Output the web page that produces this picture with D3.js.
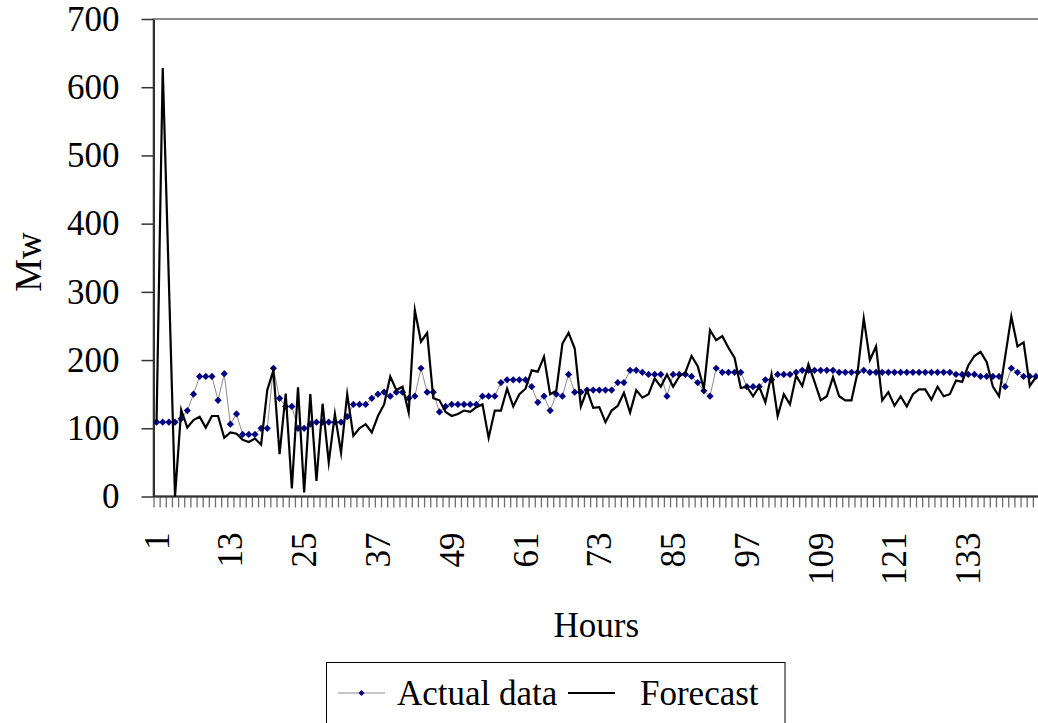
<!DOCTYPE html>
<html>
<head>
<meta charset="utf-8">
<script src="https://cdn.jsdelivr.net/npm/d3@7"></script>
<style>
  html, body { margin: 0; padding: 0; background: #fff; }
  svg { display: block; }
  text { font-family: "Liberation Serif", "Times New Roman", serif; fill: #000; }
</style>
</head>
<body>
<svg id="chart" width="1038" height="723"></svg>
<script>
// Hourly load: measured values and model forecast (MW), hours 1..144
const hours = d3.range(1, 145);

const actualData = [
  109,109,109,109,114,126,150,176,176,176,
  141,180,106,121,91,91,91,100,100,188,
  144,132,132,100,100,106,109,109,109,109,
  109,117,135,135,135,144,150,153,147,153,
  153,144,147,188,153,153,124,132,135,135,
  135,135,135,147,147,147,167,171,171,171,
  171,161,138,147,126,150,147,179,153,153,
  156,156,156,156,156,167,167,185,185,182,
  179,179,179,147,179,179,179,176,167,155,
  147,188,182,182,182,182,161,161,161,171,
  171,179,179,179,182,185,185,185,185,185,
  185,182,182,182,182,185,182,182,182,182,
  182,182,182,182,182,182,182,182,182,182,
  179,179,179,179,176,176,176,176,161,188,
  182,176,176,176
];

const forecastData = [
  110,628,315,0,127,101,112,117,101,118,
  118,86,94,92,83,80,85,76,156,185,
  62,151,12,160,6,150,23,136,50,121,
  64,150,89,100,106,94,118,135,176,156,
  161,123,273,227,240,144,141,124,118,121,
  126,124,131,135,86,126,126,158,132,150,
  158,185,183,205,150,155,224,240,217,132,
  156,130,131,109,126,133,152,123,156,145,
  150,173,161,179,161,176,182,206,191,158,
  244,229,235,218,203,159,161,147,161,138,
  179,118,150,135,177,162,194,168,141,147,
  175,147,141,141,182,261,200,220,141,153,
  133,147,132,150,157,157,142,161,147,150,
  170,168,192,206,212,197,161,147,205,264,
  220,226,162,175
];

const hourTickLabels = [1, 13, 25, 37, 49, 61, 73, 85, 97, 109, 121, 133];
const mwTicks = [0, 100, 200, 300, 400, 500, 600, 700];

const svg = d3.select("#chart");
const W = 1038, H = 723;
svg.append("rect").attr("width", W).attr("height", H).attr("fill", "#fff");

const plot = { left: 153.5, top: 19, right: 1039, bottom: 496.5 };
const FONT = 35;

const x = d3.scaleBand().domain(hours).range([plot.left, plot.right]).paddingInner(0).paddingOuter(0);
const xc = h => x(h) + x.bandwidth() / 2;
const xEdge = d3.scaleLinear().domain([0, hours.length]).range([plot.left, plot.right]);
const y = d3.scaleLinear().domain([0, 700]).range([plot.bottom, plot.top]);

// plot area frame
svg.append("rect")
  .attr("x", plot.left).attr("y", plot.top)
  .attr("width", plot.right - plot.left).attr("height", plot.bottom - plot.top)
  .attr("fill", "none").attr("stroke", "#8a8a8a").attr("stroke-width", 2);

// category tick marks at slot boundaries
const xTickAxis = d3.axisBottom(xEdge)
  .tickValues(d3.range(0, hours.length + 1))
  .tickSize(11).tickFormat("");
const gxt = svg.append("g").attr("transform", `translate(0,${plot.bottom})`).call(xTickAxis);
gxt.select(".domain").remove();
gxt.selectAll(".tick line").attr("stroke", "#6e6e6e").attr("stroke-width", 1.3);

// category labels, rotated
const xLabelAxis = d3.axisBottom(x).tickValues(hourTickLabels).tickSize(0).tickPadding(0);
const gxl = svg.append("g").attr("transform", `translate(0,${plot.bottom})`).call(xLabelAxis);
gxl.select(".domain").remove();
gxl.selectAll(".tick text")
  .attr("font-size", FONT)
  .attr("font-family", "Liberation Serif")
  .attr("text-anchor", "end")
  .attr("dy", null)
  .attr("y", 0)
  .attr("transform", "translate(12,36) rotate(-90)");

// x axis line
svg.append("line")
  .attr("x1", plot.left).attr("x2", plot.right)
  .attr("y1", plot.bottom).attr("y2", plot.bottom)
  .attr("stroke", "#333").attr("stroke-width", 2);

// y axis
const yAxis = d3.axisLeft(y).tickValues(mwTicks).tickSize(12).tickPadding(22).tickSizeOuter(0);
const gy = svg.append("g").attr("transform", `translate(${plot.left},0)`).call(yAxis);
gy.select(".domain").attr("stroke", "#333").attr("stroke-width", 2);
gy.selectAll(".tick line").attr("stroke", "#333").attr("stroke-width", 1.5);
gy.selectAll(".tick text").attr("font-size", FONT).attr("font-family", "Liberation Serif");

// axis titles
svg.append("text")
  .attr("transform", `translate(41,262) rotate(-90)`)
  .attr("text-anchor", "middle")
  .attr("font-size", 37)
  .text("Mw");

svg.append("text")
  .attr("x", (plot.left + plot.right) / 2).attr("y", 637)
  .attr("text-anchor", "middle")
  .attr("font-size", FONT)
  .text("Hours");

const series = hours.map((h, i) => ({ h, a: actualData[i], f: forecastData[i] }));

// actual data: thin grey line with navy diamonds
svg.append("path")
  .datum(series)
  .attr("fill", "none").attr("stroke", "#8c8c8c").attr("stroke-width", 1)
  .attr("d", d3.line().x(d => xc(d.h)).y(d => y(d.a)));

const diamond = d3.symbol().type(d3.symbolSquare).size(26);
svg.append("g").selectAll("path")
  .data(series)
  .join("path")
  .attr("d", diamond)
  .attr("transform", d => `translate(${xc(d.h)},${y(d.a)}) rotate(45)`)
  .attr("fill", "#000080");

// forecast: black line
svg.append("path")
  .datum(series)
  .attr("fill", "none").attr("stroke", "#000").attr("stroke-width", 2.2)
  .attr("stroke-linejoin", "miter").attr("stroke-miterlimit", 10)
  .attr("d", d3.line().x(d => xc(d.h)).y(d => y(d.f)));

// legend
const lg = svg.append("g");
lg.append("rect")
  .attr("x", 326.5).attr("y", 662.5).attr("width", 458.5).attr("height", 80)
  .attr("fill", "#fff").attr("stroke", "#000").attr("stroke-width", 1);
lg.append("line").attr("x1", 338).attr("x2", 385).attr("y1", 693).attr("y2", 693)
  .attr("stroke", "#8c8c8c").attr("stroke-width", 1);
lg.append("path").attr("d", d3.symbol().type(d3.symbolSquare).size(18))
  .attr("transform", "translate(361.5,693) rotate(45)").attr("fill", "#000080");
lg.append("text").attr("x", 397).attr("y", 705).attr("font-size", FONT).text("Actual data");
lg.append("line").attr("x1", 568).attr("x2", 615).attr("y1", 693).attr("y2", 693)
  .attr("stroke", "#000").attr("stroke-width", 2);
lg.append("text").attr("x", 640).attr("y", 705).attr("font-size", FONT).text("Forecast");
</script>
</body>
</html>
